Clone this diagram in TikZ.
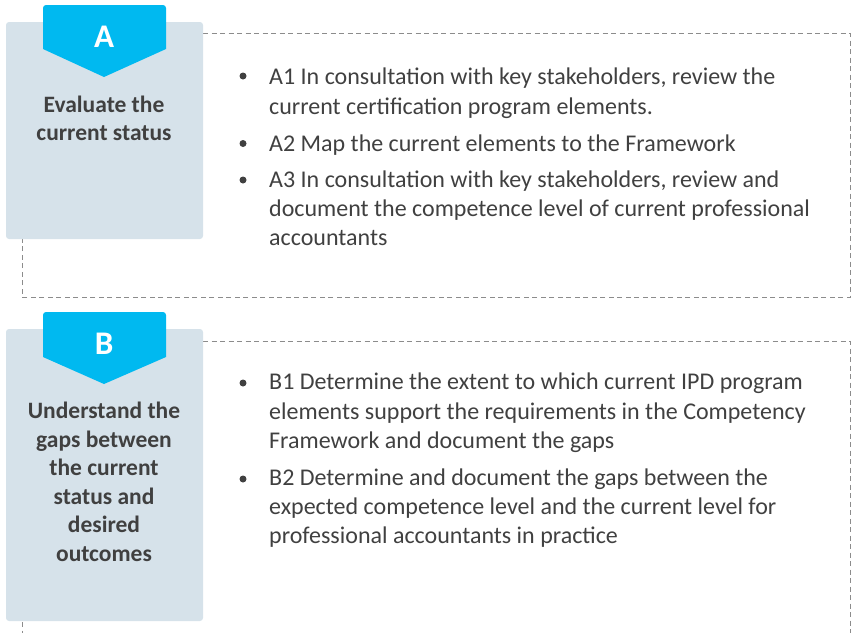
\documentclass[tikz,border=0pt]{standalone}
\usepackage{fontspec}
\setmainfont{Carlito}
\definecolor{panelc}{HTML}{D6E2EA}
\definecolor{tabc}{HTML}{00B9F0}
\definecolor{txtc}{HTML}{404040}
\definecolor{dashc}{HTML}{8C8C8C}
\begin{document}
\begin{tikzpicture}[x=1pt,y=-1pt,
  dashbox/.style={draw=dashc, line width=0.9pt, dash pattern=on 5pt off 3.5pt},
  panel/.style={fill=panelc, rounded corners=3pt},
  tabshape/.style={fill=tabc},
  letter/.style={text=white, font=\bfseries\fontsize{33}{33}\selectfont, anchor=base, inner sep=0pt},
  title/.style={text=txtc, font=\bfseries\fontsize{23.5}{28}\selectfont, anchor=base, inner sep=0pt},
  item/.style={text=txtc, font=\fontsize{24}{29}\selectfont, anchor=base west, inner sep=0pt},
  dot/.style={circle, fill=txtc, inner sep=0pt, minimum size=7pt}]
\useasboundingbox (0,0) rectangle (851,633);
% dashed frames
\draw[dashbox] (203,33) -| (850,297) -| (22,239);
\draw[dashbox] (203,341) -- (850,341) -- (850,633);
\draw[dashbox] (22,622) -- (22,633);
% panel A
\fill[panel] (6,22) rectangle (203,239);
\fill[tabshape] (43,49) -- (43,8) [rounded corners=3pt] -- (43,5) -- (166,5) [sharp corners] -- (166,49) -- (104,77) -- cycle;
\node[letter] (lA) at (104,47) {A};
\node[title] (tA1) at (104,112) {Evaluate the};
\node[title] (tA2) at (104,140) {current status};
% panel B
\fill[panel] (6,329) rectangle (203,621);
\fill[tabshape] (43,357) -- (43,316) [rounded corners=3pt] -- (43,312) -- (166,312) [sharp corners] -- (166,357) -- (104,384) -- cycle;
\node[letter] (lB) at (104,354) {B};
\node[title] (tB1) at (104,418) {Understand the};
\node[title] (tB2) at (104,447) {gaps between};
\node[title] (tB3) at (104,475) {the current};
\node[title] (tB4) at (104,504) {status and};
\node[title] (tB5) at (104,532) {desired};
\node[title] (tB6) at (104,561) {outcomes};
% items A
\node[dot] (dA1) at (243,76) {};
\node[item] (iA1a) at (269,84) {A1 In consultation with key stakeholders, review the};
\node[item] (iA1b) at (269,114) {current certification program elements.};
\node[dot] (dA2) at (243,143.5) {};
\node[item] (iA2a) at (269,151) {A2 Map the current elements to the Framework};
\node[dot] (dA3) at (243,180) {};
\node[item] (iA3a) at (269,187) {A3 In consultation with key stakeholders, review and};
\node[item] (iA3b) at (269,216) {document the competence level of current professional};
\node[item] (iA3c) at (269,245) {accountants};
% items B
\node[dot] (dB1) at (243,383) {};
\node[item] (iB1a) at (269,389) {B1 Determine the extent to which current IPD program};
\node[item] (iB1b) at (269,419) {elements support the requirements in the Competency};
\node[item] (iB1c) at (269,448) {Framework and document the gaps};
\node[dot] (dB2) at (243,479) {};
\node[item] (iB2a) at (269,485) {B2 Determine and document the gaps between the};
\node[item] (iB2b) at (269,514) {expected competence level and the current level for};
\node[item] (iB2c) at (269,543) {professional accountants in practice};
\end{tikzpicture}
\end{document}
